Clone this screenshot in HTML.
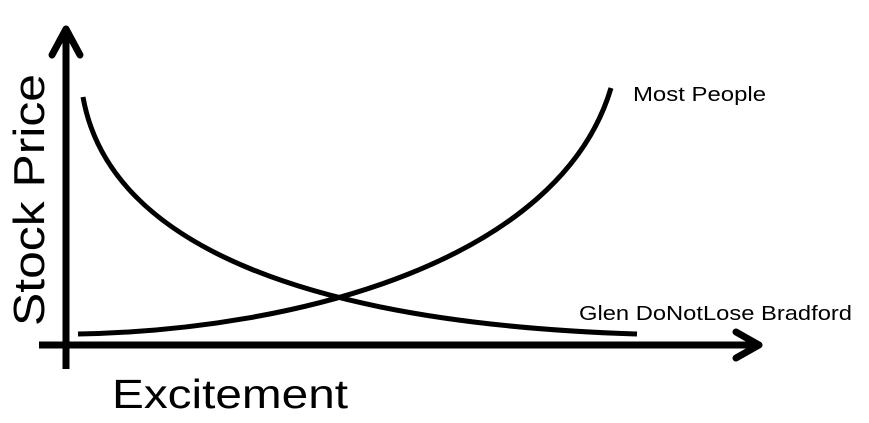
<!DOCTYPE html>
<html><head><meta charset="utf-8"><style>html,body{margin:0;padding:0;background:#fff;width:869px;height:423px;overflow:hidden}</style></head>
<body>
<svg width="869" height="423" viewBox="0 0 869 423" xmlns="http://www.w3.org/2000/svg" font-family="Liberation Sans, sans-serif">
<g stroke="#000" fill="none" stroke-linecap="round" stroke-linejoin="round">
<line x1="66" y1="30" x2="66" y2="369" stroke-width="7" stroke-linecap="butt"/>
<polyline points="52,55 66,29 80,55" stroke-width="7"/>
<line x1="39" y1="345" x2="757" y2="345" stroke-width="7" stroke-linecap="butt"/>
<polyline points="736,332 759,345 736,358" stroke-width="7"/>
<path d="M83,97 C110,250 320,324 637,334" stroke-width="5" stroke-linecap="butt"/>
<path d="M78,334 C300,330 560,260 611,88" stroke-width="5" stroke-linecap="butt"/>
</g>
<text transform="translate(44,326) rotate(-90)" font-size="44" textLength="252" lengthAdjust="spacingAndGlyphs">Stock Price</text>
<text x="112" y="408" font-size="41" textLength="236" lengthAdjust="spacingAndGlyphs">Excitement</text>
<text x="633" y="101" font-size="20" textLength="133" lengthAdjust="spacingAndGlyphs">Most People</text>
<text x="579" y="320" font-size="20" textLength="273" lengthAdjust="spacingAndGlyphs">Glen DoNotLose Bradford</text>
</svg>
</body></html>
